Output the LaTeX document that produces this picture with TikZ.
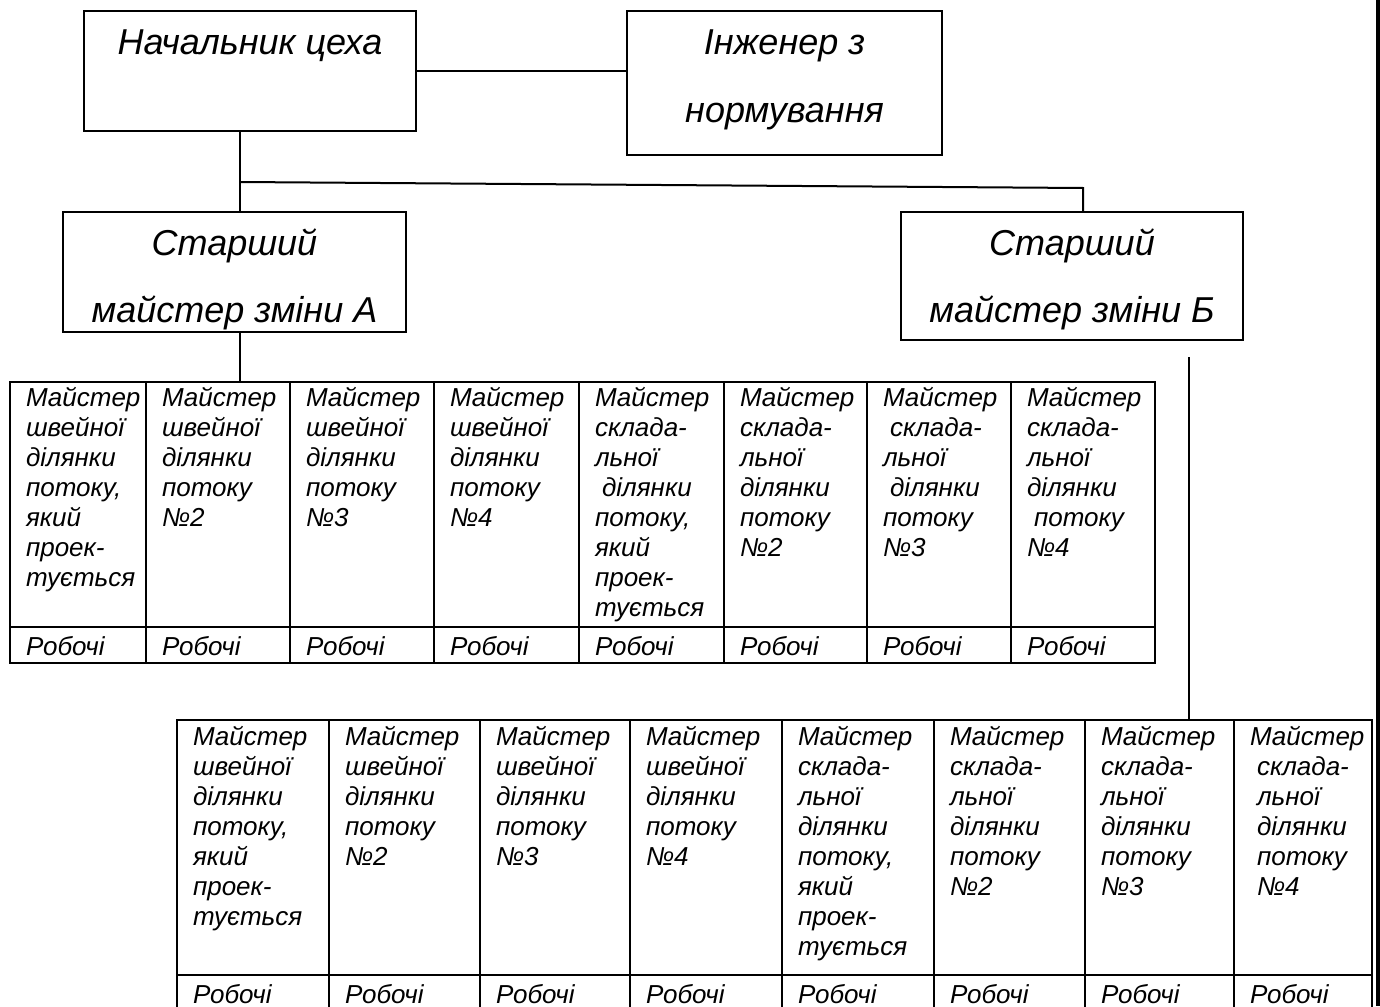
\documentclass[tikz,border=0pt]{standalone}
\usepackage{fontspec}
\setmainfont{Liberation Sans}
\usepackage{tikz}

\newcommand{\boxfont}{\fontsize{36}{67}\selectfont\itshape}
\newcommand{\tabfont}{\fontsize{26}{30}\selectfont\itshape}
% text pinned to the top of a box: height, width, first baseline, text
\newcommand{\toptxt}[4]{\parbox[c][#1][t]{#2}{\centering\rule{0pt}{#3}#4}}
\newcommand{\celltxt}[4]{\parbox[c][#1][t]{#2}{\raggedright\rule{0pt}{#3}#4}}
\newcommand{\shw}[1]{Майстер\\швейної\\ділянки\\потоку\\№#1}
\newcommand{\shwp}{Майстер\\швейної\\ділянки\\потоку,\\який\\проек-\\тується}
\newcommand{\ind}{\hspace*{7pt}}

\tikzset{
  post/.style={draw, line width=2pt, font=\boxfont, inner sep=0pt, outer sep=0pt, anchor=north west},
  mcell/.style={draw, line width=2pt, font=\tabfont, inner xsep=16pt, inner ysep=0pt, outer sep=0pt, anchor=north west},
  link/.style={line width=2pt}
}

\begin{document}
\begin{tikzpicture}[x=1pt, y=-1pt]
  \useasboundingbox (0,0) rectangle (1380,1006);
  \node[post] (chief) at (84,11) {\toptxt{120pt}{332pt}{44pt}{Начальник цеха}};
  \node[post] (eng) at (627,11) {\toptxt{144pt}{315pt}{44pt}{Інженер з\\нормування}};
  \node[post] (mastA) at (63,212) {\toptxt{120pt}{343pt}{43pt}{Старший\\майстер зміни А}};
  \node[post] (mastB) at (901,212) {\toptxt{128pt}{342pt}{43pt}{Старший\\майстер зміни Б}};

  % shift A
  \foreach \x/\w/\txt [count=\i] in {
      10/136pt/{\shwp}, 146/144pt/{\shw{2}}, 290/144pt/{\shw{3}}, 434/145pt/{\shw{4}},
      579/145pt/{Майстер\\склада-\\льної\\\ind ділянки\\потоку,\\який\\проек-\\тується},
      724/143pt/{Майстер\\склада-\\льної\\ділянки\\потоку\\№2},
      867/144pt/{Майстер\\\ind склада-\\льної\\\ind ділянки\\потоку\\№3},
      1011/144pt/{Майстер\\склада-\\льної\\ділянки\\\ind потоку\\№4}} {
    \node[mcell, minimum width=\w] (shA\i) at (\x,382) {\celltxt{245pt}{\dimexpr\w-32pt\relax}{24pt}{\txt}};
    \node[mcell, minimum width=\w] (wkA\i) at (shA\i.south west) {\celltxt{36pt}{\dimexpr\w-32pt\relax}{28pt}{Робочі}};
  }

  % shift B
  \foreach \x/\w/\txt [count=\i] in {
      177/152pt/{\shwp}, 329/151pt/{\shw{2}}, 480/150pt/{\shw{3}}, 630/152pt/{\shw{4}},
      782/152pt/{Майстер\\склада-\\льної\\ділянки\\потоку,\\який\\проек-\\тується},
      934/151pt/{Майстер\\склада-\\льної\\ділянки\\потоку\\№2},
      1085/149pt/{Майстер\\склада-\\льної\\ділянки\\потоку\\№3},
      1234/138pt/{Майстер\\\ind склада-\\\ind льної\\\ind ділянки\\\ind потоку\\\ind №4}} {
    \node[mcell, minimum width=\w] (shB\i) at (\x,720) {\celltxt{255pt}{\dimexpr\w-32pt\relax}{25pt}{\txt}};
    \node[mcell, minimum width=\w] (wkB\i) at (shB\i.south west) {\celltxt{40pt}{\dimexpr\w-32pt\relax}{28pt}{Робочі}};
  }

  \coordinate (fork) at (240,182);
  \coordinate (forkB) at (1083,188);
  \coordinate (dropB) at (1189,357);
  \draw[link] (chief.east) -- (chief.east -| eng.west);
  \draw[link] (fork |- chief.south) -- (fork |- mastA.north);
  \draw[link] (fork) -- (forkB) -- (forkB |- mastB.north);
  \draw[link] (fork |- mastA.south) -- (fork |- shA1.north);
  \draw[link] (dropB) -- (dropB |- shB7.north);
  \draw[line width=4pt] (1378,0) -- (1378,1006);
\end{tikzpicture}
\end{document}
